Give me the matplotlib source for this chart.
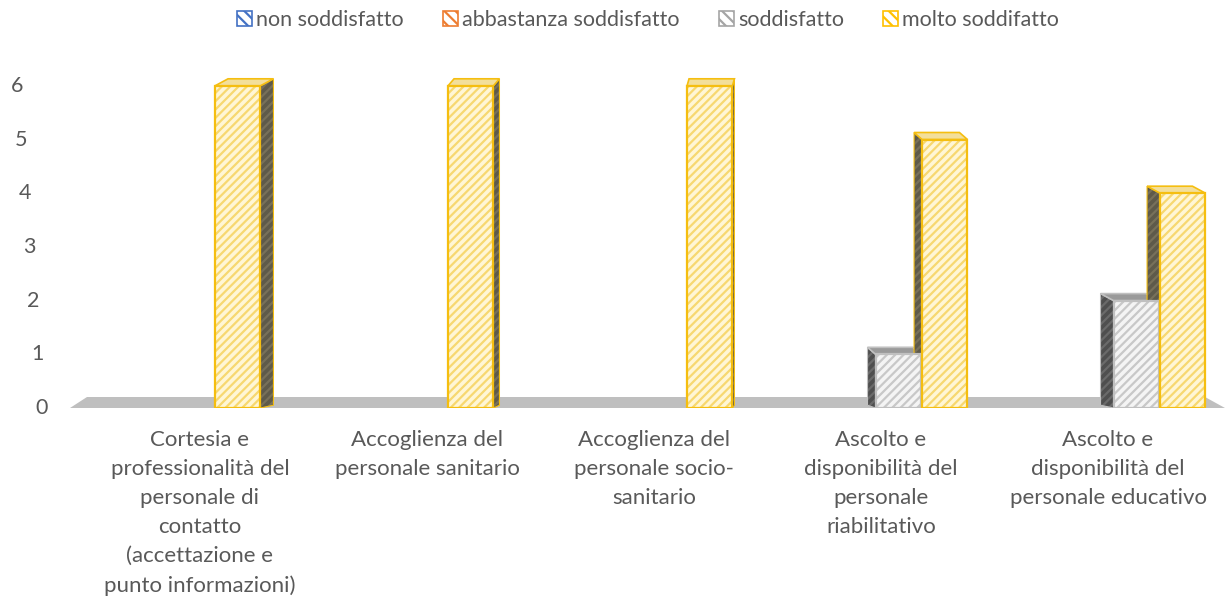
import matplotlib.pyplot as plt
from matplotlib.patches import Patch, Polygon
import numpy as np

# data
categories = [
    'Cortesia e\nprofessionalità del\npersonale di\ncontatto\n(accettazione e\npunto informazioni)',
    'Accoglienza del\npersonale sanitario',
    'Accoglienza del\npersonale socio-\nsanitario',
    'Ascolto e\ndisponibilità del\npersonale\nriabilitativo',
    'Ascolto e\ndisponibilità del\npersonale educativo',
]
series_names = ['non soddisfatto', 'abbastanza soddisfatto', 'soddisfatto', 'molto soddifatto']
non_soddisfatto = [0, 0, 0, 0, 0]
abbastanza = [0, 0, 0, 0, 0]
soddisfatto = [0, 0, 0, 1, 2]
molto = [6, 6, 6, 5, 4]
y_ticks = [0, 1, 2, 3, 4, 5, 6]

series_values = [non_soddisfatto, abbastanza, soddisfatto, molto]

# styling
text_col = '#595959'
fs = 15.5
base_cols = ['#4472C4', '#ED7D31', '#A5A5A5', '#FFC000']
front_face = ['#DAE3F3', '#FBE5D6', '#F4F4F4', '#FFF6D5']
front_hatch = ['#4472C4', '#ED7D31', '#C8C8C8', '#F7D870']
front_edge = ['#4472C4', '#ED7D31', '#C0C0C0', '#F5BE10']
side_face = ['#2F4F87', '#A0521F', '#4F4F4F', '#5E5A4A']
side_hatch = ['#3A5FA0', '#B8622A', '#6A6A6A', '#77705A']
top_face = ['#B4C7E7', '#F8CBAD', '#9A9A9A', '#F3DF9A']
offsets = [-0.37, -0.16, 0.045, 0.25]
bar_w = 0.2
persp_px = [-19, -13, -1, 7, 18]  # perspective shift of each bar group (px)
side_px = [13, 6, 2, -8, -13]     # visible side face width per category (px)
top_px = 7                        # height of visible top face (px)

plt.rcParams['font.family'] = ['Lato', 'DejaVu Sans']
plt.rcParams['hatch.linewidth'] = 1.6

fig = plt.figure(figsize=(12.29, 5.99), dpi=100)
ax = fig.add_axes([70 / 1229, (599 - 408) / 599, 1155 / 1229, 338 / 599])
x0, x1 = (70 - 200) / 227, (1225 - 200) / 227
y_top = 338 / 53.7
ax.set_xlim(x0, x1)
ax.set_ylim(0, y_top)
px_x = (x1 - x0) / 1155
px_y = y_top / 338

# floor
floor = Polygon([(x0, 0), ((87 - 200) / 227, 11 * px_y), ((1205 - 200) / 227, 11 * px_y), (x1, 0)],
                closed=True, facecolor='#BFBFBF', edgecolor='none', zorder=1, clip_on=False)
ax.add_patch(floor)

x = np.arange(len(categories))
for s, vals in enumerate(series_values):
    xv, hv = [], []
    for i, v in enumerate(vals):
        if v == 0:
            continue
        xc = x[i] + offsets[s] + persp_px[i] * px_x
        xv.append(xc)
        hv.append(v)
        left = xc - bar_w / 2
        right = xc + bar_w / 2
        dx = side_px[i] * px_x
        dy = top_px * px_y
        # side face
        xs = right if dx > 0 else left
        pts = [(xs, 0), (xs + dx, dy * 0.4), (xs + dx, v + dy), (xs, v)]
        ax.add_patch(Polygon(pts, closed=True, facecolor=side_face[s], edgecolor=side_hatch[s],
                             hatch='////', lw=0, zorder=2))
        ax.add_patch(Polygon(pts, closed=True, facecolor='none', edgecolor=front_edge[s],
                             lw=0.8, zorder=2))
        # top face
        ax.add_patch(Polygon([(left, v), (right, v), (right + dx, v + dy), (left + dx, v + dy)],
                             closed=True, facecolor=top_face[s], edgecolor=front_edge[s],
                             lw=1.2, zorder=2))
    # front faces
    ax.bar(xv, hv, width=bar_w, color=front_face[s], edgecolor=front_hatch[s], hatch='////',
           linewidth=0, zorder=3)
    ax.bar(xv, hv, width=bar_w, color='none', edgecolor=front_edge[s], linewidth=1.6, zorder=4)

# axes cosmetics
for sp in ax.spines.values():
    sp.set_visible(False)
ax.set_xticks(x)
ax.set_xticklabels(categories, fontsize=16, color=text_col, linespacing=1.56, va='top')
ax.tick_params(axis='x', length=0, pad=16)
ax.set_yticks([])
for t in y_ticks:
    xpx = 42 - 4.2 * t
    ax.text((xpx - 70) / 1155, t, str(t), transform=ax.get_yaxis_transform(),
            ha='center', va='center', fontsize=fs, color=text_col)

handles = [Patch(facecolor='white', edgecolor=base_cols[k], hatch='\\\\\\', lw=1.2)
           for k in range(4)]
fig.legend(handles, series_names, loc='center', bbox_to_anchor=(648 / 1229, 1 - 20 / 599),
           ncol=4, frameon=False, fontsize=fs, labelcolor=text_col, handlelength=0.7,
           handleheight=0.7, handletextpad=0.2, columnspacing=1.8)

fig.savefig('out.png', dpi=100)
